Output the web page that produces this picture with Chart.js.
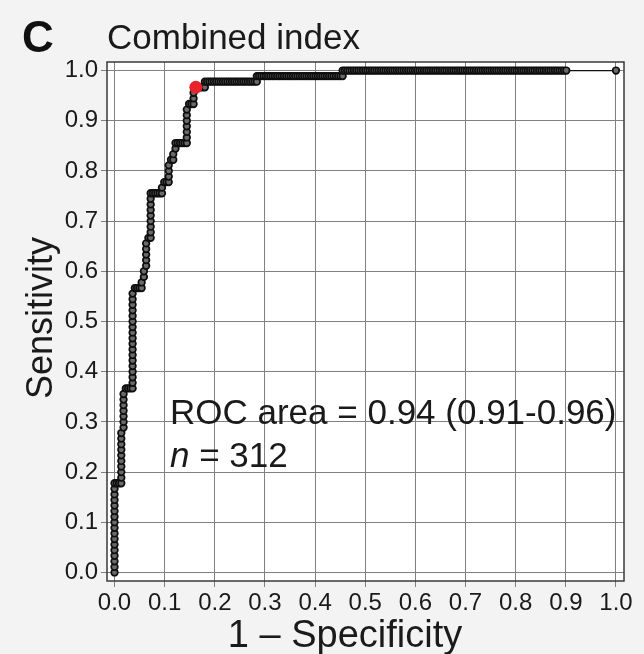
<!DOCTYPE html>
<html>
<head>
<meta charset="utf-8">
<script src="https://cdn.jsdelivr.net/npm/chart.js@4.4.1/dist/chart.umd.min.js"></script>
<style>
  html, body { margin: 0; padding: 0; background: #f3f3f3; }
  #wrap { width: 644px; height: 654px; }
</style>
</head>
<body>
<div id="wrap"><canvas id="c" width="644" height="654"></canvas></div>
<script>
// ---- data ----
const panelLetter = "C";
const chartTitle = "Combined index";
const xAxisTitle = "1 \u2013 Specificity";
const yAxisTitle = "Sensitivity";
const aucText = "ROC area = 0.94 (0.91-0.96)";
const sampleSize = 312;
const N_NEG = 222;   // negatives (1 - specificity step = 1/N_NEG)
const N_POS = 90;    // positives (sensitivity step = 1/N_POS)
const xTicks = [0.0, 0.1, 0.2, 0.3, 0.4, 0.5, 0.6, 0.7, 0.8, 0.9, 1.0];
const yTicks = [0.0, 0.1, 0.2, 0.3, 0.4, 0.5, 0.6, 0.7, 0.8, 0.9, 1.0];
// ROC points as [false-positive count, true-positive count]
const rocCounts = [
  [0,0],[0,1],[0,2],[0,3],[0,4],[0,5],[0,6],[0,7],[0,8],[0,9],[0,10],[0,11],[0,12],[0,13],[0,14],[0,15],[0,16],
  [1,16],[2,16],[3,16],
  [3,17],[3,18],[3,19],[3,20],[3,21],[3,22],[3,23],[3,24],[3,25],[4,26],[4,27],[4,28],[4,29],[4,30],[4,31],[4,32],
  [5,33],[6,33],[7,33],[8,33],
  [8,34],[8,35],[8,36],[8,37],[8,38],[8,39],[8,40],[8,41],[8,42],[8,43],[8,44],[8,45],[8,46],[8,47],[8,48],[8,49],[8,50],
  [9,51],[10,51],[11,51],[12,51],
  [12,52],[13,53],[13,54],[14,55],[14,56],[14,57],[14,58],[14,59],[15,60],[16,60],
  [16,61],[16,62],[16,63],[16,64],[16,65],[16,66],[16,67],[16,68],
  [17,68],[18,68],[19,68],[20,68],[21,68],[21,69],[22,70],[23,70],[24,70],
  [24,71],[24,72],[24,73],[25,74],[26,74],[26,75],[27,76],[27,77],[28,77],[29,77],[30,77],[31,77],[32,77],
  [32,78],[32,79],[32,80],[32,81],[32,82],[32,83],[33,84],[34,84],[35,84],[35,85],[35,86],[36,87],
  [37,87],[38,87],[39,87],[40,87],[40,88],
  [41,88],[42,88],[43,88],[44,88],[45,88],[46,88],[47,88],[48,88],[49,88],[50,88],[51,88],[52,88],
  [53,88],[54,88],[55,88],[56,88],[57,88],[58,88],[59,88],[60,88],[61,88],[62,88],[63,88],
  [63,89],
  [64,89],[65,89],[66,89],[67,89],[68,89],[69,89],[70,89],[71,89],[72,89],[73,89],[74,89],[75,89],[76,89],
  [77,89],[78,89],[79,89],[80,89],[81,89],[82,89],[83,89],[84,89],[85,89],[86,89],[87,89],[88,89],[89,89],
  [90,89],[91,89],[92,89],[93,89],[94,89],[95,89],[96,89],[97,89],[98,89],[99,89],[100,89],[101,89],
  [101,90],
  [102,90],[103,90],[104,90],[105,90],[106,90],[107,90],[108,90],[109,90],[110,90],[111,90],[112,90],
  [113,90],[114,90],[115,90],[116,90],[117,90],[118,90],[119,90],[120,90],[121,90],[122,90],[123,90],
  [124,90],[125,90],[126,90],[127,90],[128,90],[129,90],[130,90],[131,90],[132,90],[133,90],[134,90],
  [135,90],[136,90],[137,90],[138,90],[139,90],[140,90],[141,90],[142,90],[143,90],[144,90],[145,90],
  [146,90],[147,90],[148,90],[149,90],[150,90],[151,90],[152,90],[153,90],[154,90],[155,90],[156,90],
  [157,90],[158,90],[159,90],[160,90],[161,90],[162,90],[163,90],[164,90],[165,90],[166,90],[167,90],
  [168,90],[169,90],[170,90],[171,90],[172,90],[173,90],[174,90],[175,90],[176,90],[177,90],[178,90],
  [179,90],[180,90],[181,90],[182,90],[183,90],[184,90],[185,90],[186,90],[187,90],[188,90],[189,90],
  [190,90],[191,90],[192,90],[193,90],[194,90],[195,90],[196,90],[197,90],[198,90],[199,90],[200,90],
  [222,90]
];
// optimal cut-off point (red marker), as counts
const cutoffCounts = [[36, 87]];

// ---- build chart ----
const FONT = "'Liberation Sans', Arial, Helvetica, sans-serif";
const rocPoints = rocCounts.map(([f, t]) => ({ x: f / N_NEG, y: t / N_POS }));
const cutoffPoints = cutoffCounts.map(([f, t]) => ({ x: f / N_NEG, y: t / N_POS }));

const decorPlugin = {
  id: 'decor',
  beforeDraw(chart) {
    const ctx = chart.ctx, a = chart.chartArea;
    ctx.save();
    ctx.fillStyle = '#f3f3f3';
    ctx.fillRect(0, 0, chart.width, chart.height);
    ctx.fillStyle = '#ffffff';
    ctx.fillRect(a.left, a.top, a.right - a.left, a.bottom - a.top);
    ctx.restore();
  },
  beforeDatasetsDraw(chart) {
    const ctx = chart.ctx, a = chart.chartArea;
    ctx.save();
    ctx.strokeStyle = '#3a3a3a';
    ctx.lineWidth = 1.5;
    ctx.strokeRect(a.left, a.top, a.right - a.left, a.bottom - a.top);
    ctx.fillStyle = '#1a1a1a';
    ctx.textBaseline = 'alphabetic';
    ctx.textAlign = 'left';
    ctx.font = '35px ' + FONT;
    ctx.fillText(aucText, 170, 424);
    ctx.font = 'italic 35px ' + FONT;
    ctx.fillText('n', 170, 467);
    const w = ctx.measureText('n').width;
    ctx.font = '35px ' + FONT;
    ctx.fillText(' = ' + sampleSize, 170 + w, 467);
    ctx.restore();
  },
  afterDraw(chart) {
    const ctx = chart.ctx;
    ctx.save();
    ctx.fillStyle = '#111';
    ctx.textBaseline = 'alphabetic';
    ctx.textAlign = 'left';
    ctx.font = 'bold 44px ' + FONT;
    ctx.fillText(panelLetter, 22, 52);
    ctx.fillStyle = '#1a1a1a';
    ctx.font = '35px ' + FONT;
    ctx.fillText(chartTitle, 107, 49);
    ctx.font = '38px ' + FONT;
    ctx.textAlign = 'center';
    ctx.fillText(xAxisTitle, 345, 647);
    ctx.font = '36px ' + FONT;
    ctx.translate(52, 318);
    ctx.rotate(-Math.PI / 2);
    ctx.fillText(yAxisTitle, 0, 0);
    ctx.restore();
  }
};

new Chart(document.getElementById('c'), {
  type: 'scatter',
  data: {
    datasets: [
      {
        data: cutoffPoints,
        pointRadius: 6.5,
        pointBackgroundColor: '#e8232a',
        pointBorderColor: '#e8232a',
        pointBorderWidth: 0,
        showLine: false,
        order: 0
      },
      {
        data: rocPoints,
        showLine: true,
        borderColor: '#111',
        borderWidth: 1.2,
        pointRadius: 3.3,
        pointBorderWidth: 1.7,
        pointBorderColor: '#0d0d0d',
        pointBackgroundColor: '#6a6a6a',
        order: 1
      }
    ]
  },
  options: {
    responsive: false,
    animation: false,
    events: [],
    layout: { padding: { top: 62, right: 20, left: 0, bottom: 0 } },
    plugins: { legend: { display: false }, tooltip: { enabled: false }, title: { display: false } },
    scales: {
      x: {
        type: 'linear',
        min: -0.015, max: 1.016,
        afterBuildTicks: s => { s.ticks = xTicks.map(v => ({ value: v })); },
        afterFit: s => { s.height = 73; },
        ticks: {
          callback: v => Number(v).toFixed(1),
          font: { family: FONT, size: 24 },
          color: '#1a1a1a',
          padding: 2,
          maxRotation: 0, autoSkip: false
        },
        grid: { color: '#808080', lineWidth: 1, tickLength: 6, drawTicks: true },
        border: { display: false }
      },
      y: {
        type: 'linear',
        min: -0.017, max: 1.017,
        afterBuildTicks: s => { s.ticks = yTicks.map(v => ({ value: v })); },
        afterFit: s => { s.width = 107; },
        ticks: {
          callback: v => Number(v).toFixed(1),
          font: { family: FONT, size: 24 },
          color: '#1a1a1a',
          padding: 3,
          autoSkip: false
        },
        grid: { color: '#808080', lineWidth: 1, tickLength: 6, drawTicks: true },
        border: { display: false }
      }
    }
  },
  plugins: [decorPlugin]
});
</script>
</body>
</html>
